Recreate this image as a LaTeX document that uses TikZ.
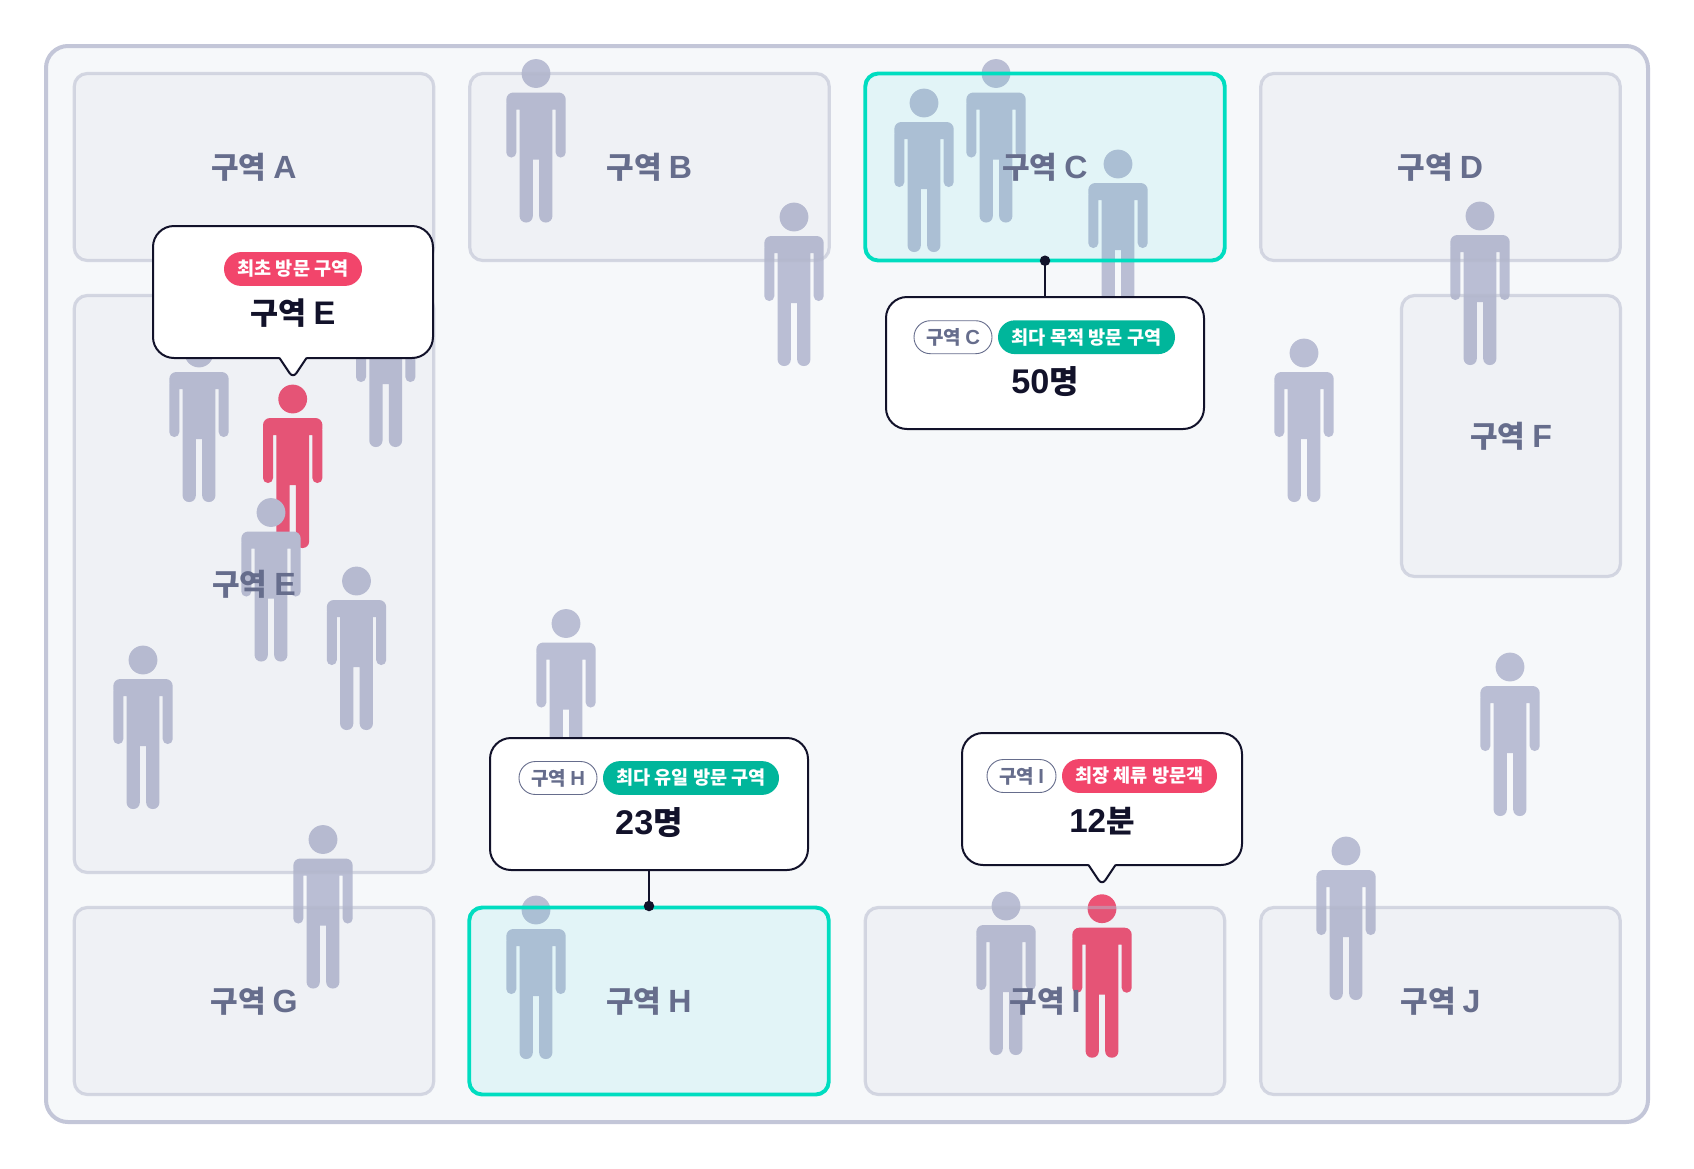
\documentclass[tikz,border=0pt]{standalone}
\usepackage{fontspec}
\setmainfont{Noto Sans CJK KR}
\newfontfamily\latf[Scale=1.07]{Liberation Sans}
\definecolor{bgc}{HTML}{F6F8FA}
\definecolor{outerc}{HTML}{C3C6D8}
\definecolor{zonec}{HTML}{B4B8CC}
\definecolor{zonefc}{HTML}{707498}
\definecolor{tealc}{HTML}{00DDC0}
\definecolor{tealfc}{HTML}{00D0DC}
\definecolor{grayp}{HTML}{BABED4}
\definecolor{redp}{HTML}{EC5375}
\definecolor{inkc}{HTML}{12122A}
\definecolor{labelc}{HTML}{666D8C}
\definecolor{pillred}{HTML}{F2456B}
\definecolor{pillgreen}{HTML}{00B69B}
\newcommand{\fs}[1]{\fontsize{#1}{#1}\selectfont}
\newcommand{\zn}[1]{구역 {\latf\bfseries #1}}
\tikzset{
  x=1pt,y=-1pt,
  person/.pic={
    \path[pic actions]
      [rounded corners=7] (-29.7,36) rectangle (29.7,19)
      [rounded corners=4.9] (-29.7,84) rectangle (-19.7,26)
      (19.7,84) rectangle (29.7,26)
      [rounded corners=0] (-16.4,86) rectangle (16.4,30)
      [rounded corners=6.4] (-16.4,149) rectangle (-3.2,80)
      (3.2,149) rectangle (16.4,80);
    \path[pic actions] (0,0) circle[radius=14.4];
  },
  gp/.style={fill=grayp},
  rp/.style={fill=redp},
  zonebox/.style={rectangle,rounded corners=13,draw=zonec,draw opacity=.5,fill=zonefc,fill opacity=.05,text opacity=1,line width=3.2,inner sep=0},
  zonehot/.style={rectangle,rounded corners=13,draw=tealc,fill=tealfc,fill opacity=.08,draw opacity=1,text opacity=1,line width=3.9,inner sep=0},
  zonetext/.style={font=\fs{30}\bfseries,text=labelc,inner sep=0},
  callout/.style={rectangle,rounded corners=21,draw=inkc,fill=white,line width=2,inner sep=0},
  pilltag/.style={rectangle,rounded corners=16.9,inner sep=0,minimum height=33.8,font=\fs{18.6}\bfseries,text=white},
  pilloutline/.style={rectangle,rounded corners=16.4,inner sep=0,minimum height=33,draw=labelc,line width=.9,fill=white,font=\fs{19}\bfseries,text=labelc},
  bigtext/.style={font=\fs{32}\bfseries,text=inkc,inner sep=0},
  dotnode/.style={circle,fill=inkc,minimum size=10.5,inner sep=0},
  conn/.style={draw=inkc,line width=2},
}
\newcommand{\zone}[7]{\node[#1,minimum width=#4,minimum height=#5] (#2) at (#6,#7) {};\node[zonetext] (#2t) at (#6,#7) {#3};}
\begin{document}
\begin{tikzpicture}
\useasboundingbox (0,0) rectangle (1694,1168);
\fill[white] (0,0) rectangle (1694,1168);
\draw[draw=outerc,fill=bgc,line width=4,rounded corners=22] (46,46) rectangle (1648,1122);

% people (below the zones)
\pic[gp] at (536,73.5) {person};
\pic[gp] at (794,217) {person};
\pic[gp] at (924,103) {person};
\pic[gp] at (996,73.5) {person};
\pic[gp] at (1118,164) {person};
\pic[gp] at (1480,216) {person};
\pic[gp] at (1304,353) {person};
\pic[gp] at (199,353) {person};
\pic[rp] at (292.7,399) {person};
\pic[gp] at (385.7,298) {person};
\pic[gp,preaction={draw=white,line width=1.2}] at (271,512.5) {person};
\pic[gp] at (356.5,581) {person};
\pic[gp] at (143,660) {person};
\pic[gp] at (566,623.5) {person};
\pic[gp] at (323,839.5) {person};
\pic[gp] at (536,910) {person};
\pic[gp] at (1006,906) {person};
\pic[rp] at (1102,908.7) {person};
\pic[gp] at (1346,851) {person};
\pic[gp] at (1510,667) {person};

% zones
\zone{zonebox}{zA}{\zn{A}}{359.5}{187}{254}{167}
\zone{zonebox}{zB}{\zn{B}}{359.5}{187}{649.5}{167}
\zone{zonehot}{zC}{\zn{C}}{359.5}{187}{1045}{167}
\zone{zonebox}{zD}{\zn{D}}{359.5}{187}{1440.5}{167}
\zone{zonebox}{zE}{\zn{E}}{359.5}{577}{254}{584}
\zone{zonebox}{zF}{\zn{F}}{219}{281}{1511}{436}
\zone{zonebox}{zG}{\zn{G}}{359.5}{187}{254}{1001}
\zone{zonehot}{zH}{\zn{H}}{359.5}{187}{649}{1001}
\zone{zonebox}{zI}{\zn{I}}{359.5}{187}{1045}{1001}
\zone{zonebox}{zJ}{\zn{J}}{359.5}{187}{1440.5}{1001}

% connectors
\node[callout,minimum width=318,minimum height=132] (cC) at (1045,363) {};
\node[dotnode] (dC) at (1045,260.7) {};
\draw[conn] (dC.center) -- (cC.north);
\node[callout,minimum width=318,minimum height=132] (cH) at (649,804) {};
\node[dotnode] (dH) at (649,906) {};
\draw[conn] (cH.south) -- (dH.center);

% callout E
\node[callout,minimum width=280,minimum height=132] (cE) at (293,292) {};
\fill[white] (279.5,357) -- (306.5,357) -- (293,374) -- cycle;
\draw[conn,line join=round] (279.5,358) -- (289.5,373) .. controls (291.5,376) and (294.5,376) .. (296.5,373) -- (306.5,358);
\node[pilltag,fill=pillred,minimum width=138] (pE) at (293,269) {\raisebox{-.6pt}{최초 방문 구역}};
\node[bigtext,font=\fs{30.5}\bfseries] (tE) at (293,313.5) {구역 {\latf\bfseries E}};

% callout C content
\node[pilloutline,minimum width=78] (pC1) at (953,337.2) {\raisebox{-.6pt}{\zn{C}}};
\node[pilltag,fill=pillgreen,minimum width=177] (pC2) at (1086.5,337.2) {\raisebox{-.6pt}{최다 목적 방문 구역}};
\node[bigtext] (tC) at (1045,381.5) {{\latf\bfseries 50}명};

% callout H content
\node[pilloutline,minimum width=78] (pH1) at (558,778) {\raisebox{-.6pt}{\zn{H}}};
\node[pilltag,fill=pillgreen,minimum width=176] (pH2) at (691,778) {\raisebox{-.6pt}{최다 유일 방문 구역}};
\node[bigtext] (tH) at (649,822.5) {{\latf\bfseries 23}명};

% callout I
\node[callout,minimum width=280,minimum height=132] (cI) at (1102,799) {};
\fill[white] (1088.5,864) -- (1115.5,864) -- (1102,881) -- cycle;
\draw[conn,line join=round] (1088.5,865) -- (1098.5,880) .. controls (1100.5,883) and (1103.5,883) .. (1105.5,880) -- (1115.5,865);
\node[pilloutline,minimum width=69] (pI1) at (1021.5,776) {\raisebox{-.6pt}{\zn{I}}};
\node[pilltag,fill=pillred,minimum width=155] (pI2) at (1139.5,776) {\raisebox{-.6pt}{최장 체류 방문객}};
\node[bigtext,font=\fs{31}\bfseries] (tI) at (1102,821) {{\latf\bfseries 12}분};
\end{tikzpicture}
\end{document}
